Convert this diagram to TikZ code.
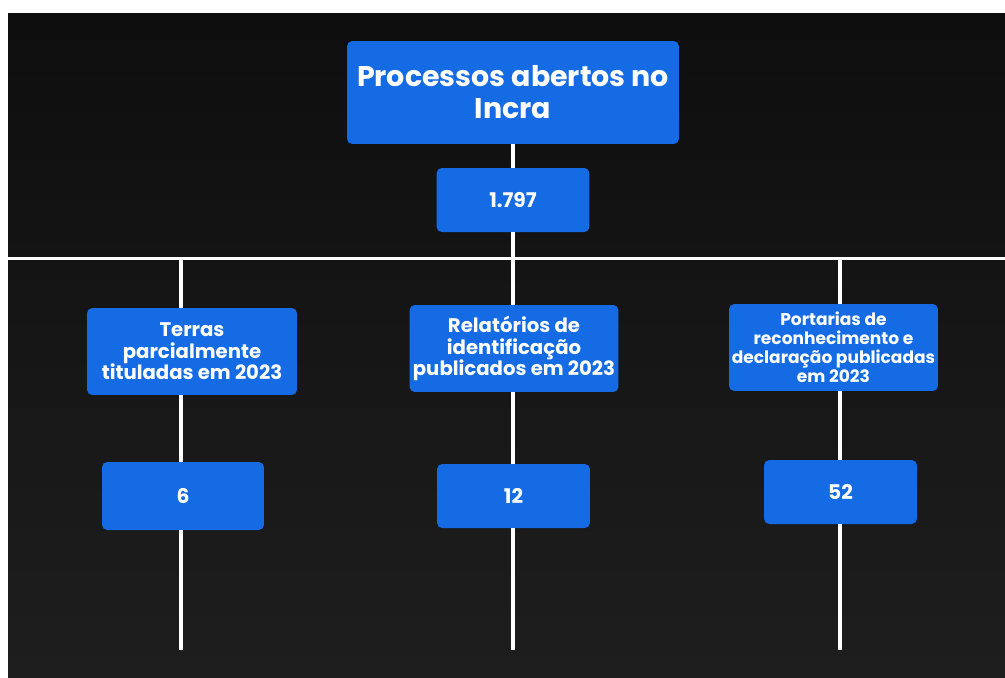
\documentclass[tikz,border=0pt]{standalone}
\usepackage{fontspec}
\setmainfont{Poppins}
\usetikzlibrary{positioning,calc}
\definecolor{boxblue}{HTML}{146BE4}
\definecolor{boardtop}{HTML}{0E0E0E}
\definecolor{boardbot}{HTML}{1E1E1E}

\begin{document}
\begin{tikzpicture}[x=0.02cm,y=-0.02cm]
    % Setup the style for the boxes
        \tikzset{box style/.style={rectangle,
                                   rounded corners=3pt,
                                   fill=boxblue,
                                   text=white,
                                   align=center,
                                   inner sep=0pt},
                 small font/.style={font=\bfseries\fontsize{11.2}{12.2}\selectfont},
                 value font/.style={font=\bfseries\fontsize{11.5}{13}\selectfont},
                 link style/.style={draw=white, line width=2pt}}

        % The board
        \fill[white] (0,0) rectangle (1005,677);
        \shade[top color=boardtop, bottom color=boardbot] (8,13) rectangle (1005,677);
        \useasboundingbox (0,0) rectangle (1005,677);

        % Draw the boxes
        \node[box style, minimum width=6.64cm, minimum height=2.06cm,
              font=\bfseries\fontsize{16.2}{18.2}\selectfont] at (513, 92.5) (incra) {Processos abertos no\\Incra};
        \node[box style, value font, minimum width=3.06cm, minimum height=1.28cm] at (513, 200) (total) {1.797};

        \node[box style, small font, minimum width=4.2cm, minimum height=1.74cm] at (192, 351.5) (terras) {Terras\\parcialmente\\tituladas em 2023};
        \node[box style, small font, minimum width=4.18cm, minimum height=1.74cm] at (514, 348.5) (relat) {Relatórios de\\identificação\\publicados em 2023};
        \node[box style, minimum width=4.18cm, minimum height=1.74cm,
              font=\bfseries\fontsize{9.7}{10.8}\selectfont] at (833.5, 347.5) (portar) {Portarias de\\reconhecimento e\\declaração publicadas\\em 2023};

        \node[box style, value font, minimum width=3.24cm, minimum height=1.36cm] at (183, 496) (nterras) {6};
        \node[box style, value font, minimum width=3.06cm, minimum height=1.28cm] at (513.5, 496) (nrelat) {12};
        \node[box style, value font, minimum width=3.06cm, minimum height=1.28cm] at (840.5, 492) (nportar) {52};

        % Points on the bar and line ends
        \coordinate (barW) at (8, 258);
        \coordinate (barE) at (1005, 258);
        \coordinate (barL) at (181, 258);
        \coordinate (barM) at (513, 258);
        \coordinate (barR) at (840, 258);
        \coordinate (endL) at (181, 650);
        \coordinate (endM) at (513, 650);
        \coordinate (endR) at (840, 650);

        % Connect the boxes
        \draw[link style] (incra) -- (total);
        \draw[link style] (total) -- (barM);
        \draw[link style, line width=1.7pt] (barW) -- (barE);
        \draw[link style] (barL) -- (barL |- terras.north)
                          (barL |- terras.south) -- (barL |- nterras.north)
                          (barL |- nterras.south) -- (endL);
        \draw[link style] (barM) -- (barM |- relat.north)
                          (barM |- relat.south) -- (barM |- nrelat.north)
                          (barM |- nrelat.south) -- (endM);
        \draw[link style] (barR) -- (barR |- portar.north)
                          (barR |- portar.south) -- (barR |- nportar.north)
                          (barR |- nportar.south) -- (endR);
\end{tikzpicture}
\end{document}
